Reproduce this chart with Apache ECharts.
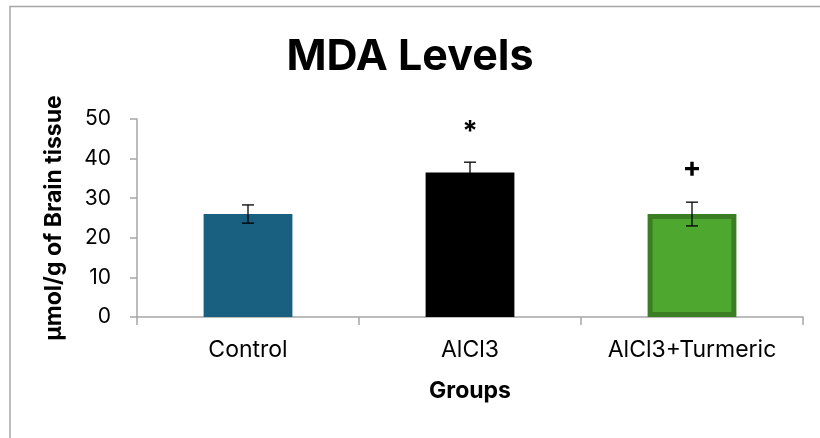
<!DOCTYPE html>
<html>
<head>
<meta charset="utf-8">
<script src="https://cdn.jsdelivr.net/npm/echarts@6/dist/echarts.min.js"></script>
<style>
  html, body { margin: 0; padding: 0; background: #ffffff; }
  #chart { width: 820px; height: 438px; }
</style>
</head>
<body>
<div id="chart"></div>
<script>
// MDA levels per group (µmol/g of brain tissue), mean ± error
const groups = ['Control', 'AlCl3', 'AlCl3+Turmeric'];
const means = [26.0, 36.5, 26.0];
const errors = [2.3, 2.6, 3.0];
const marks = ['', '*', '+'];
const yTicks = { min: 0, max: 50, step: 10 };

const FONT = 'Inter, "Liberation Sans", Arial, sans-serif';

const barStyles = [
  { color: '#185f80', borderColor: '#185f80', borderWidth: 0 },
  { color: '#000000', borderColor: '#000000', borderWidth: 2 },
  { color: '#4ea72e', borderColor: '#3b7d23', borderWidth: 5 }
];

const chart = echarts.init(document.getElementById('chart'), null, { renderer: 'canvas' });

chart.setOption({
  backgroundColor: '#ffffff',
  animation: false,
  graphic: [{
    type: 'rect',
    shape: { x: 10, y: 6.5, width: 840, height: 460 },
    style: { fill: 'none', stroke: '#a6a6a6', lineWidth: 1.5 },
    silent: true, z: -1
  }],
  title: {
    text: 'MDA Levels',
    left: 'center',
    top: 31,
    textStyle: { fontFamily: FONT, fontSize: 43, fontWeight: 'bold', color: '#000000' }
  },
  grid: { left: 137, right: 17, top: 119, bottom: 121, containLabel: false },
  xAxis: {
    type: 'category',
    data: groups,
    name: 'Groups',
    nameLocation: 'middle',
    nameGap: 63,
    nameTextStyle: { fontFamily: FONT, fontSize: 23, fontWeight: 'bold', color: '#000000' },
    axisLine: { lineStyle: { color: '#a6a6a6', width: 1.5 } },
    axisTick: { show: true, alignWithLabel: false, length: 8, lineStyle: { color: '#a6a6a6', width: 1.5 } },
    axisLabel: { fontFamily: FONT, fontSize: 23, color: '#000000', margin: 22 }
  },
  yAxis: {
    type: 'value',
    min: yTicks.min,
    max: yTicks.max,
    interval: yTicks.step,
    name: 'µmol/g of Brain tissue',
    nameLocation: 'middle',
    nameRotate: 90,
    nameGap: 71,
    nameTextStyle: { fontFamily: FONT, fontSize: 23, fontWeight: 'bold', color: '#000000' },
    axisLine: { show: true, lineStyle: { color: '#a6a6a6', width: 1.5 } },
    axisTick: { show: true, length: 7, lineStyle: { color: '#a6a6a6', width: 1.5 } },
    splitLine: { show: false },
    axisLabel: { fontFamily: FONT, fontSize: 21, color: '#000000', margin: 26 }
  },
  series: [
    {
      type: 'bar',
      barWidth: '40%',
      data: means.map((v, i) => ({ value: v, itemStyle: barStyles[i] })),
      z: 2
    },
    {
      // error bars
      type: 'custom',
      z: 5,
      data: means.map((v, i) => [i, v, errors[i]]),
      renderItem: function (params, api) {
        const x = api.value(0);
        const m = api.value(1);
        const e = api.value(2);
        const hi = api.coord([x, m + e]);
        const lo = api.coord([x, m - e]);
        const cap = 6;
        const style = { stroke: '#000000', lineWidth: 1.3 };
        return {
          type: 'group',
          children: [
            { type: 'line', shape: { x1: hi[0], y1: hi[1], x2: lo[0], y2: lo[1] }, style },
            { type: 'line', shape: { x1: hi[0] - cap, y1: hi[1], x2: hi[0] + cap, y2: hi[1] }, style },
            { type: 'line', shape: { x1: lo[0] - cap, y1: lo[1], x2: lo[0] + cap, y2: lo[1] }, style }
          ]
        };
      }
    },
    {
      // significance marks above the error bars
      type: 'custom',
      z: 6,
      data: means.map((v, i) => [i, v + errors[i], marks[i]]),
      renderItem: function (params, api) {
        const i = params.dataIndex;
        const p = api.coord([api.value(0), api.value(1)]);
        return {
          type: 'text',
          style: {
            text: marks[i],
            x: p[0],
            y: p[1] - (marks[i] === '*' ? 30 : 34),
            align: 'center',
            verticalAlign: 'middle',
            font: 'bold 28px ' + FONT,
            fill: '#000000'
          }
        };
      }
    }
  ]
});
</script>
</body>
</html>
